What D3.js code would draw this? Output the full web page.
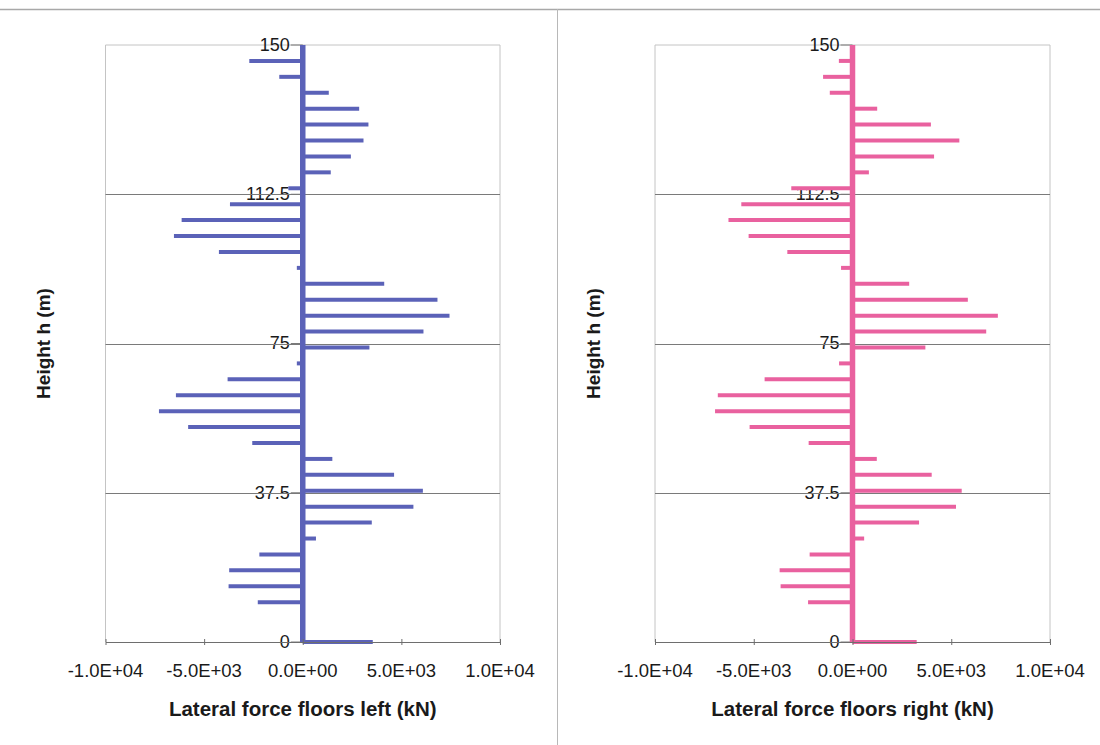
<!DOCTYPE html>
<html>
<head>
<meta charset="utf-8">
<script src="https://cdn.jsdelivr.net/npm/d3@7"></script>
<style>
  html, body { margin: 0; padding: 0; background: #fff; }
  svg { display: block; }
  text { font-family: "Liberation Sans", Arial, sans-serif; fill: #1a1a1a; }
</style>
</head>
<body>
<svg id="chart" width="1100" height="745"></svg>
<script>
// ---------- data ----------
const heights = [0, 10, 14, 18, 22, 26, 30, 34, 38, 42, 46, 50, 54, 58, 62, 66, 70, 74,
                 78, 82, 86, 90, 94, 98, 102, 106, 110, 114, 118, 122, 126, 130, 134, 138, 142, 146];
const forcesLeft = [3550, -2280, -3760, -3730, -2200, 670, 3500, 5610, 6090, 4630, 1500, -2560,
                    -5810, -7290, -6430, -3810, -300, 3380, 6120, 7440, 6830, 4130, -300, -4250,
                    -6530, -6140, -3690, -730, 1420, 2440, 3080, 3330, 2860, 1320, -1190, -2710];
const forcesRight = [3250, -2250, -3640, -3690, -2170, 590, 3370, 5240, 5530, 4010, 1230, -2220,
                     -5210, -6960, -6820, -4450, -680, 3690, 6770, 7360, 5840, 2870, -580, -3300,
                     -5260, -6280, -5630, -3100, 830, 4130, 5410, 3970, 1250, -1150, -1490, -690];
const xTicks = [-10000, -5000, 0, 5000, 10000];
const xTickLabels = ["-1.0E+04", "-5.0E+03", "0.0E+00", "5.0E+03", "1.0E+04"];
const yTicks = [0, 37.5, 75, 112.5, 150];
const yTickLabels = ["0", "37.5", "75", "112.5", "150"];
const xTitles = ["Lateral force floors left (kN)", "Lateral force floors right (kN)"];
const yTitle = "Height h (m)";
const seriesColors = ["#5b62b8", "#e9619f"];

// ---------- drawing ----------
const svg = d3.select("#chart");

// page frame lines
svg.append("line").attr("x1", 0).attr("x2", 1100).attr("y1", 9.5).attr("y2", 9.5)
   .attr("stroke", "#a8a8a8").attr("stroke-width", 1.5);
svg.append("line").attr("x1", 557.5).attr("x2", 557.5).attr("y1", 9).attr("y2", 745)
   .attr("stroke", "#b8b8b8").attr("stroke-width", 1);

const panels = [
  { x0: 105.5, x1: 500, values: forcesLeft, color: seriesColors[0], title: xTitles[0], yTitleX: 43 },
  { x0: 655, x1: 1050, values: forcesRight, color: seriesColors[1], title: xTitles[1], yTitleX: 593 }
];

const yTop = 45, yBot = 642;

panels.forEach(p => {
  const x = d3.scaleLinear().domain([-10000, 10000]).range([p.x0, p.x1]);
  const y = d3.scaleLinear().domain([0, 150]).range([yBot, yTop]);
  const g = svg.append("g");

  // plot frame (left, top, right)
  g.append("path")
    .attr("d", `M${p.x0},${yBot}V${yTop}H${p.x1}V${yBot}`)
    .attr("fill", "none").attr("stroke", "#c4c4c4").attr("stroke-width", 1);

  // y tick labels (drawn before gridlines so gridlines cross them)
  const x0 = x(0);
  g.selectAll("text.ytick").data(yTicks).join("text")
    .attr("class", "ytick")
    .attr("x", x0 - 13).attr("y", d => y(d)).attr("dy", "0.33em")
    .attr("text-anchor", "end").attr("font-size", 18)
    .text((d, i) => yTickLabels[i]);

  // horizontal gridlines
  g.selectAll("line.grid").data(yTicks.filter(d => d > 0 && d < 150)).join("line")
    .attr("class", "grid")
    .attr("x1", p.x0).attr("x2", p.x1)
    .attr("y1", d => Math.round(y(d)) + 0.5).attr("y2", d => Math.round(y(d)) + 0.5)
    .attr("stroke", "#7a7a7a").attr("stroke-width", 1);

  // y tick marks
  g.selectAll("line.ytickmark").data(yTicks).join("line")
    .attr("class", "ytickmark")
    .attr("x1", x0 - 12).attr("x2", x0)
    .attr("y1", d => y(d)).attr("y2", d => y(d))
    .attr("stroke", "#7a7a7a").attr("stroke-width", 1);

  // bars (horizontal lines from zero)
  g.selectAll("line.bar").data(heights).join("line")
    .attr("class", "bar")
    .attr("x1", x0).attr("x2", (d, i) => x(p.values[i]))
    .attr("y1", d => y(d)).attr("y2", d => y(d))
    .attr("stroke", p.color).attr("stroke-width", 4);

  // thick vertical line at x = 0
  g.append("line")
    .attr("x1", x0).attr("x2", x0).attr("y1", y(0)).attr("y2", y(150))
    .attr("stroke", p.color).attr("stroke-width", 5.5);

  // x axis
  const xAxis = d3.axisBottom(x).tickValues(xTicks)
    .tickSize(0).tickPadding(0).tickFormat((d, i) => xTickLabels[i]);
  const ax = g.append("g").attr("transform", `translate(0,${yBot})`).call(xAxis);
  ax.select(".domain").attr("stroke", "#6e6e6e").attr("stroke-width", 1.2);
  ax.selectAll(".tick text").remove();
  ax.selectAll(".tick").append("line")
    .attr("y1", -3).attr("y2", 3).attr("stroke", "#6e6e6e");
  g.selectAll("text.xtick").data(xTicks).join("text")
    .attr("class", "xtick")
    .attr("x", d => x(d)).attr("y", 677)
    .attr("text-anchor", "middle").attr("font-size", 18.5)
    .text((d, i) => xTickLabels[i]);

  // x title
  g.append("text")
    .attr("x", (p.x0 + p.x1) / 2).attr("y", 716)
    .attr("text-anchor", "middle").attr("font-size", 20.5).attr("font-weight", "bold")
    .text(p.title);

  // y title
  g.append("text")
    .attr("transform", `translate(${p.yTitleX + 7},${(yTop + yBot) / 2}) rotate(-90)`)
    .attr("text-anchor", "middle").attr("font-size", 19).attr("font-weight", "bold")
    .text(yTitle);
});
</script>
</body>
</html>
